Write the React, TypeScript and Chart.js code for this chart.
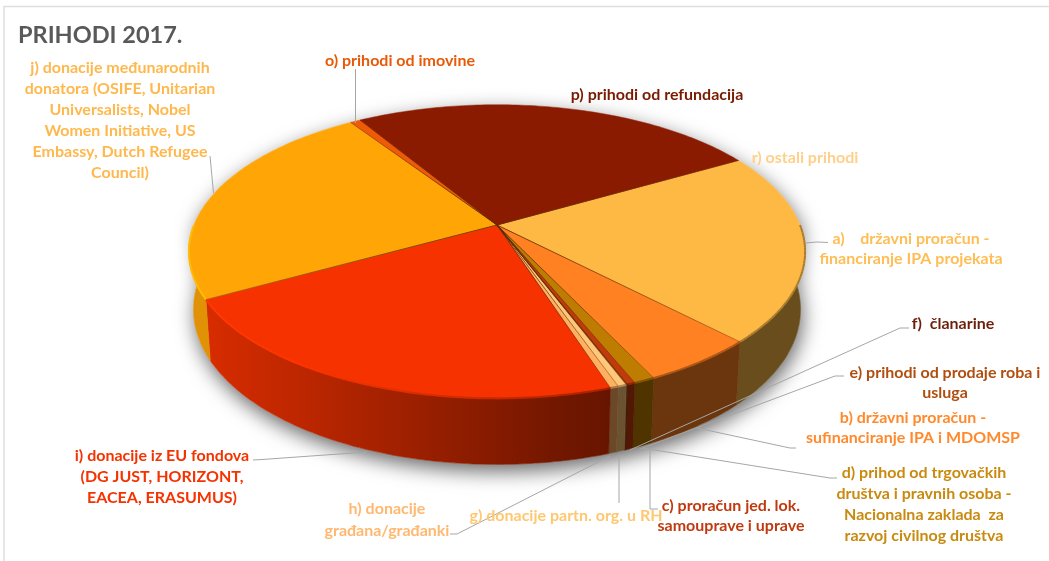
import React, { useEffect, useRef } from "react";
import { Chart, registerables } from "chart.js";

Chart.register(...registerables);

const categories = [
  "a) državni proračun - financiranje IPA projekata",
  "b) državni proračun - sufinanciranje IPA i MDOMSP",
  "d) prihod od trgovačkih društva i pravnih osoba - Nacionalna zaklada za razvoj civilnog društva",
  "c) proračun jed. lok. samouprave i uprave",
  "f) članarine",
  "e) prihodi od prodaje roba i usluga",
  "g) donacije partn. org. u RH",
  "h) donacije građana/građanki",
  "i) donacije iz EU fondova (DG JUST, HORIZONT, EACEA, ERASUMUS)",
  "j) donacije međunarodnih donatora (OSIFE, Unitarian Universalists, Nobel Women Initiative, US Embassy, Dutch Refugee Council)",
  "o) prihodi od imovine",
  "p) prihodi od refundacija",
  "r) ostali prihodi",
];
const revenueShare = [20.97, 5.17, 0.94, 0.36, 0.03, 0.03, 0.375, 0.375, 22.06, 23.6, 0.64, 25.5, 0];
const sliceColors = [
  "#FDB944", "#FF8122", "#BE7C00", "#C23A08", "#7A2408", "#B0500F",
  "#FFC777", "#FFB060", "#F63300", "#FFA506", "#EE5A08", "#8B1B00", "#FFD08A",
];

// [text colour, centre x, first baseline-centre y, line gap, lines]
const labelBlocks: [string, number, number, number, string[]][] = [
  ["#FFB84D", 120, 68, 21, ["j) donacije međunarodnih", "donatora (OSIFE, Unitarian", "Universalists, Nobel", "Women Initiative, US", "Embassy, Dutch Refugee", "Council)"]],
  ["#E85A08", 400, 61, 20, ["o) prihodi od imovine"]],
  ["#7A1A00", 657, 95, 20, ["p) prihodi od refundacija"]],
  ["#FFD08A", 805, 158, 20, ["r) ostali prihodi"]],
  ["#FFBE55", 911, 239, 20, ["a)    državni proračun -", "financiranje IPA projekata"]],
  ["#6E1F0A", 953, 324, 20, ["f)  članarine"]],
  ["#B04E10", 945, 373, 20, ["e) prihodi od prodaje roba i", "usluga"]],
  ["#FF8A2E", 913, 418, 20, ["b) državni proračun -", "sufinanciranje IPA i MDOMSP"]],
  ["#C98A10", 924, 473, 21, ["d) prihod od trgovačkih", "društva i pravnih osoba -", "Nacionalna zaklada  za", "razvoj civilnog društva"]],
  ["#C03A10", 731, 506, 20, ["c) proračun jed. lok.", "samouprave i uprave"]],
  ["#FFC770", 566, 516, 20, ["g) donacije partn. org. u RH"]],
  ["#FFB870", 387, 509, 22, ["h) donacije", "građana/građanki"]],
  ["#F53200", 162, 456, 21, ["i) donacije iz EU fondova", "(DG JUST, HORIZONT,", "EACEA, ERASUMUS)"]],
];

const leaderLines: number[][] = [
  [210, 156, 213.5, 193],
  [355.5, 69, 355.5, 123],
  [805, 243, 817, 242, 828, 242.5],
  [253, 460, 262, 459.5, 367, 452],
  [909, 328, 900, 328, 630, 450],
  [844, 376, 835, 376, 640, 449],
  [697, 428, 790, 448, 796, 448],
  [837, 478, 830, 478, 642, 448],
  [619, 455, 619, 503],
  [650, 447, 650, 509, 658, 509],
  [450, 534, 457, 534, 610, 456],
];

const CX = 497, CY = 225, RX = 303, RY = 142, M = 0.181;

const rim = (t: number) => {
  const w = 1 - M * Math.sin(t);
  return [CX + (RX * Math.cos(t)) / w, CY + (RY * Math.sin(t)) / w];
};
const base = (t: number) => {
  const [x, y] = rim(t);
  return [CX + (x - CX) * 0.985, y + 56 + 10 * Math.sin(t)];
};
const hexRgb = (h: string) => [1, 3, 5].map((i) => parseInt(h.slice(i, i + 2), 16));
const shade = (h: string, f: number) => {
  const [r, g, b] = hexRgb(h);
  return `rgb(${Math.min(255, r * f) | 0},${Math.min(255, g * f) | 0},${Math.min(255, b * f) | 0})`;
};
const lightAt = (x: number) => Math.max(0.42, Math.min(0.88, 0.42 + (0.46 * (600 - x)) / 395));
const range = (a: number, b: number) => {
  const out: number[] = [];
  const n = Math.max(1, Math.ceil((b - a) / (Math.PI / 180)));
  for (let i = 0; i <= n; i++) out.push(a + ((b - a) * i) / n);
  return out;
};

const pie3d = {
  id: "pie3d",
  beforeDatasetDraw(chart: any) {
    const ctx: CanvasRenderingContext2D = chart.ctx;
    const arcs = chart.getDatasetMeta(0).data;
    const colors = chart.data.datasets[0].backgroundColor as string[];

    // soft ground shadow
    ctx.save();
    ctx.shadowColor = "rgba(0,0,0,0.6)";
    ctx.shadowBlur = 20;
    ctx.shadowOffsetY = 7;
    ctx.shadowOffsetX = 2;
    ctx.fillStyle = "#ffffff";
    ctx.beginPath();
    range(0, Math.PI).forEach((t) => {
      const [x, y] = base(t);
      ctx.lineTo(x, y);
    });
    range(Math.PI, Math.PI * 2).forEach((t) => {
      const [x, y] = rim(t);
      ctx.lineTo(x, y);
    });
    ctx.closePath();
    ctx.fill();
    ctx.restore();

    // side walls
    arcs.forEach((arc: any, i: number) => {
      for (const k of [0, 2]) {
        const a = Math.max(arc.startAngle, k * Math.PI);
        const b = Math.min(arc.endAngle, (k + 1) * Math.PI);
        if (b <= a) continue;
        const ts = range(a, b);
        const xs = ts.map((t) => rim(t)[0]);
        const x0 = Math.min(...xs), x1 = Math.max(...xs) + 0.01;
        const g = ctx.createLinearGradient(x0, 0, x1, 0);
        for (let s = 0; s <= 8; s++) {
          g.addColorStop(s / 8, shade(colors[i], lightAt(x0 + ((x1 - x0) * s) / 8)));
        }
        ctx.beginPath();
        ts.forEach((t) => {
          const [x, y] = rim(t);
          ctx.lineTo(x, y);
        });
        [...ts].reverse().forEach((t) => {
          const [x, y] = base(t);
          ctx.lineTo(x, y);
        });
        ctx.closePath();
        ctx.fillStyle = g;
        ctx.strokeStyle = g;
        ctx.lineWidth = 0.6;
        ctx.fill();
        ctx.stroke();
      }
    });

    // top faces
    arcs.forEach((arc: any, i: number) => {
      if (arc.endAngle - arc.startAngle <= 0) return;
      ctx.beginPath();
      ctx.moveTo(CX, CY);
      range(arc.startAngle, arc.endAngle).forEach((t) => {
        const [x, y] = rim(t);
        ctx.lineTo(x, y);
      });
      ctx.closePath();
      ctx.fillStyle = colors[i];
      ctx.strokeStyle = colors[i];
      ctx.lineWidth = 0.5;
      ctx.fill();
      ctx.stroke();
    });

    // bevel along the front rim
    arcs.forEach((arc: any, i: number) => {
      for (const k of [0, 2]) {
        const a = Math.max(arc.startAngle, k * Math.PI);
        const b = Math.min(arc.endAngle, (k + 1) * Math.PI);
        if (b <= a) continue;
        range(a, b).forEach((t, j, all) => {
          if (j === 0) return;
          const [x0, y0] = rim(all[j - 1]);
          const [x1, y1] = rim(t);
          ctx.beginPath();
          ctx.moveTo(x0, y0);
          ctx.lineTo(x1, y1);
          ctx.strokeStyle = shade(colors[i], lightAt(x1) + 0.26);
          ctx.lineWidth = 2;
          ctx.stroke();
        });
      }
    });

    // dark radial seams
    arcs.forEach((arc: any) => {
      if (arc.endAngle - arc.startAngle <= 0) return;
      const [x, y] = rim(arc.startAngle);
      const g = ctx.createLinearGradient(CX, CY, x, y);
      g.addColorStop(0, "rgba(90,40,0,0.85)");
      g.addColorStop(1, "rgba(90,40,0,0.4)");
      ctx.beginPath();
      ctx.moveTo(CX, CY);
      ctx.lineTo(x, y);
      ctx.strokeStyle = g;
      ctx.lineWidth = 1;
      ctx.stroke();
    });
    return false;
  },
  afterDraw(chart: any) {
    const ctx: CanvasRenderingContext2D = chart.ctx;
    ctx.save();
    // frame
    ctx.strokeStyle = "#DEDEDE";
    ctx.lineWidth = 1.5;
    ctx.beginPath();
    ctx.moveTo(4, 561);
    ctx.lineTo(4, 6.5);
    ctx.lineTo(1049, 6.5);
    ctx.stroke();
    // leaders
    ctx.strokeStyle = "#A6A6A6";
    ctx.lineWidth = 1;
    leaderLines.forEach((p) => {
      ctx.beginPath();
      for (let i = 0; i < p.length; i += 2) ctx.lineTo(p[i], p[i + 1]);
      ctx.stroke();
    });
    // labels
    ctx.font = "bold 16px Lato";
    ctx.textAlign = "center";
    ctx.textBaseline = "middle";
    labelBlocks.forEach(([color, x, y, gap, lines]) => {
      ctx.fillStyle = color;
      lines.forEach((line, i) => ctx.fillText(line, x, y + i * gap));
    });
    ctx.restore();
  },
};

export default function App() {
  const ref = useRef<HTMLCanvasElement>(null);
  useEffect(() => {
    document.body.style.margin = "0";
    document.body.style.background = "#ffffff";
    const chart = new Chart(ref.current!, {
      type: "pie",
      data: {
        labels: categories,
        datasets: [{ data: revenueShare, backgroundColor: sliceColors, borderWidth: 0 }],
      },
      options: {
        responsive: false,
        animation: false,
        rotation: 60.3,
        layout: { padding: { left: 18, top: 21 } },
        plugins: {
          legend: { display: false },
          tooltip: { enabled: false },
          title: {
            display: true,
            text: "PRIHODI 2017.",
            align: "start",
            color: "#595959",
            font: { family: "Lato", size: 23.5, weight: "bold" },
            padding: { top: 0, bottom: 0 },
          },
        },
      },
      plugins: [pie3d],
    } as any);
    return () => chart.destroy();
  }, []);
  return <canvas ref={ref} width={1049} height={561} style={{ display: "block" }} />;
}
